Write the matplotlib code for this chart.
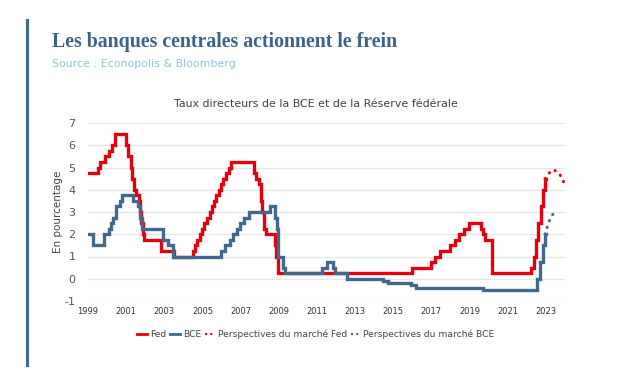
import matplotlib
matplotlib.use('Agg')
import matplotlib.pyplot as plt
from matplotlib.lines import Line2D

# taux Fed (date de changement en annee decimale, taux)
fed_t = [1999.0, 1999.5, 1999.65, 1999.9, 2000.1, 2000.25, 2000.4, 2001.0, 2001.08, 2001.25,
         2001.33, 2001.42, 2001.5, 2001.65, 2001.72, 2001.8, 2001.88, 2001.95, 2002.85, 2003.5,
         2004.5, 2004.62, 2004.72, 2004.87, 2004.95, 2005.1, 2005.22, 2005.38, 2005.5, 2005.62,
         2005.72, 2005.88, 2005.95, 2006.1, 2006.22, 2006.38, 2006.5, 2007.7, 2007.8, 2007.95,
         2008.05, 2008.1, 2008.22, 2008.33, 2008.78, 2008.85, 2008.96, 2015.96, 2016.96, 2017.2,
         2017.46, 2017.96, 2018.22, 2018.46, 2018.72, 2018.96, 2019.58, 2019.72, 2019.83, 2020.2,
         2022.2, 2022.35, 2022.46, 2022.57, 2022.72, 2022.85, 2022.96]
fed_v = [4.75, 5.0, 5.25, 5.5, 5.75, 6.0, 6.5, 6.0, 5.5, 5.0,
         4.5, 4.0, 3.75, 3.5, 3.0, 2.5, 2.0, 1.75, 1.25, 1.0,
         1.25, 1.5, 1.75, 2.0, 2.25, 2.5, 2.75, 3.0, 3.25, 3.5,
         3.75, 4.0, 4.25, 4.5, 4.75, 5.0, 5.25, 4.75, 4.5, 4.25,
         3.5, 3.0, 2.25, 2.0, 1.5, 1.0, 0.25, 0.5, 0.75, 1.0,
         1.25, 1.5, 1.75, 2.0, 2.25, 2.5, 2.25, 2.0, 1.75, 0.25,
         0.5, 1.0, 1.75, 2.5, 3.25, 4.0, 4.5]

# taux BCE (facilite de depot)
bce_t = [1999.0, 1999.28, 1999.85, 2000.1, 2000.2, 2000.3, 2000.45, 2000.7, 2000.8, 2001.35,
         2001.62, 2001.72, 2001.85, 2002.95, 2003.2, 2003.45, 2005.95, 2006.2, 2006.45, 2006.6,
         2006.8, 2006.95, 2007.2, 2007.45, 2008.55, 2008.8, 2008.88, 2008.96, 2009.2, 2009.3,
         2011.28, 2011.55, 2011.85, 2011.96, 2012.55, 2014.45, 2014.7, 2015.95, 2016.2, 2019.7,
         2022.55, 2022.7, 2022.85, 2022.96]
bce_v = [2.0, 1.5, 2.0, 2.25, 2.5, 2.75, 3.25, 3.5, 3.75, 3.5,
         3.25, 2.75, 2.25, 1.75, 1.5, 1.0, 1.25, 1.5, 1.75, 2.0,
         2.25, 2.5, 2.75, 3.0, 3.25, 2.75, 2.25, 1.0, 0.5, 0.25,
         0.5, 0.75, 0.5, 0.25, 0.0, -0.1, -0.2, -0.3, -0.4, -0.5,
         0.0, 0.75, 1.5, 2.0]

# perspectives du marche
fed_p_t = [2022.96, 2023.1, 2023.25, 2023.45, 2023.65, 2023.8, 2024.0]
fed_p_v = [4.5, 4.65, 4.85, 4.88, 4.75, 4.6, 4.2]
bce_p_t = [2022.96, 2023.08, 2023.2, 2023.4, 2023.65]
bce_p_v = [2.0, 2.35, 2.65, 2.95, 3.0]

years = list(range(1999, 2024, 2))
yticks = list(range(-1, 8))

red = '#e3000f'
blue = '#42698c'

fig = plt.figure(figsize=(6.33, 3.77), dpi=100)
ax = fig.add_axes([88 / 633, 1 - 301 / 377, (565 - 88) / 633, (301 - 123) / 377])

ax.plot(fed_t + [2023.0], fed_v + [fed_v[-1]], drawstyle='steps-post', color=red, lw=2.4,
        solid_joinstyle='miter')
ax.plot(bce_t + [2023.0], bce_v + [bce_v[-1]], drawstyle='steps-post', color=blue, lw=2.4,
        solid_joinstyle='miter')
ax.plot(fed_p_t, fed_p_v, color=red, lw=2.2, ls=(0, (0.1, 2.2)), dash_capstyle='round')
ax.plot(bce_p_t, bce_p_v, color=blue, lw=2.2, ls=(0, (0.1, 2.2)), dash_capstyle='round')

ax.set_xlim(1999, 2024)
ax.set_ylim(-1, 7)
ax.set_yticks(yticks)
ax.set_xticks(years)
ax.set_xticklabels([str(y) for y in years], fontsize=6, color='#333333')
ax.set_yticklabels([str(y) for y in yticks], fontsize=8, color='#555555')
ax.tick_params(axis='both', length=0)
ax.tick_params(axis='x', pad=4)
ax.tick_params(axis='y', pad=9)
ax.grid(axis='y', color='#e6e6e6', lw=0.9)
ax.set_axisbelow(True)
for s in ax.spines.values():
    s.set_visible(False)
ax.set_ylabel('En pourcentage', fontsize=7.5, color='#444444')
ax.yaxis.set_label_coords(-0.052, 0.5)

fig.text(316 / 633, 1 - 104 / 377, 'Taux directeurs de la BCE et de la Réserve fédérale',
         ha='center', va='center', fontsize=7.9, color='#404040')

fig.text(52 / 633, 1 - 42 / 377, 'Les banques centrales actionnent le frein', ha='left',
         va='center', fontsize=14.3, fontweight='bold', family='Liberation Serif',
         color='#3d6387')
fig.text(52 / 633, 1 - 64 / 377, 'Source : Econopolis & Bloomberg', ha='left', va='center',
         fontsize=7.9, color='#8ec5dc')

# barre verticale a gauche
fig.add_artist(Line2D([26.5 / 633, 26.5 / 633], [1 - 20 / 377, 1 - 365 / 377],
                      color='#3f6a8f', lw=2.2))

handles = [Line2D([], [], color=red, lw=2),
           Line2D([], [], color=blue, lw=2),
           Line2D([], [], color=red, lw=1.5, ls=(0, (1, 1.5))),
           Line2D([], [], color=blue, lw=1.5, ls=(0, (1, 1.5)))]
labels = ['Fed', 'BCE', 'Perspectives du marché Fed', 'Perspectives du marché BCE']
fig.legend(handles, labels, loc='center', bbox_to_anchor=(316 / 633, 1 - 334 / 377), ncol=4,
           frameon=False, fontsize=6.6, handlelength=1.1, handletextpad=0.3, columnspacing=0.4,
           labelcolor='#444444')

fig.savefig('out.png', dpi=100)
